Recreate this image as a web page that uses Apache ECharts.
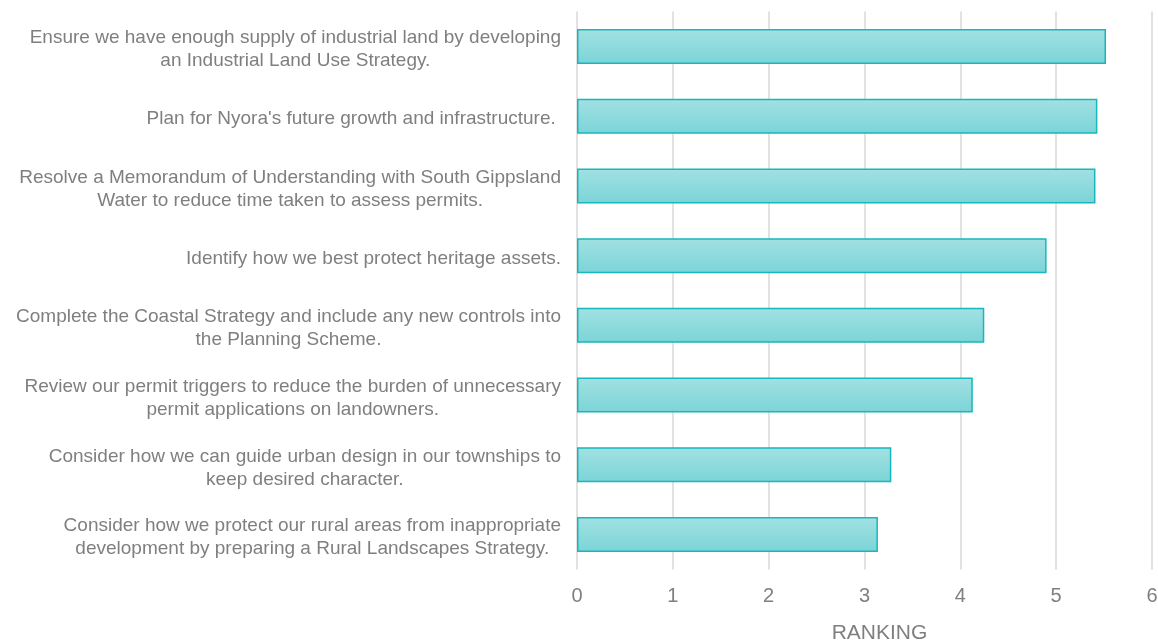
<!DOCTYPE html>
<html>
<head>
<meta charset="utf-8">
<script src="https://cdn.jsdelivr.net/npm/echarts@6/dist/echarts.min.js"></script>
<style>html,body{margin:0;padding:0;background:#fff;}#c{width:1158px;height:644px;}</style>
</head>
<body>
<div id="c"></div>
<script>
const categories = [
  "Ensure we have enough supply of industrial land by developing\nan Industrial Land Use Strategy.",
  "Plan for Nyora's future growth and infrastructure. ",
  "Resolve a Memorandum of Understanding with South Gippsland\nWater to reduce time taken to assess permits.",
  "Identify how we best protect heritage assets.",
  "Complete the Coastal Strategy and include any new controls into\nthe Planning Scheme.",
  "Review our permit triggers to reduce the burden of unnecessary\npermit applications on landowners.",
  "Consider how we can guide urban design in our townships to\nkeep desired character.",
  "Consider how we protect our rural areas from inappropriate\ndevelopment by preparing a Rural Landscapes Strategy."
];
const values = [5.52, 5.43, 5.41, 4.90, 4.25, 4.13, 3.28, 3.14];
const xTicks = [0, 1, 2, 3, 4, 5, 6];
const axisName = "RANKING";

const FONT = "'Liberation Sans', Arial, sans-serif";
const chart = echarts.init(document.getElementById('c'), null, {renderer: 'canvas'});
chart.setOption({
  animation: false,
  backgroundColor: '#ffffff',
  grid: {left: 577, right: 6, top: 11.6, bottom: 74.6, containLabel: false, outerBoundsMode: 'none'},
  xAxis: {
    type: 'value',
    min: xTicks[0], max: xTicks[xTicks.length - 1], interval: 1,
    name: axisName,
    nameLocation: 'middle',
    nameGap: 53,
    nameTextStyle: {color: '#7f7f7f', fontSize: 21, fontFamily: FONT, padding: [0, 0, 0, 30]},
    axisLine: {show: false},
    axisTick: {show: false},
    axisLabel: {color: '#7f7f7f', fontSize: 20, margin: 17, fontFamily: FONT},
    splitLine: {show: true, lineStyle: {color: '#d9d9d9', width: 1.5}}
  },
  yAxis: {
    type: 'category',
    inverse: true,
    data: categories,
    axisLine: {show: false},
    axisTick: {show: false},
    axisLabel: {
      margin: 16,
      color: '#7f7f7f',
      fontSize: 19,
      fontFamily: FONT,
      lineHeight: 23,
      padding: [6, 0, 0, 0],
      formatter: function (v) {
        return v.split('\n').map(function (s) { return '{c|' + s + '}'; }).join('\n');
      },
      rich: {c: {align: 'center', color: '#7f7f7f', fontSize: 19, lineHeight: 23, fontFamily: FONT}}
    }
  },
  series: [{
    type: 'bar',
    data: values,
    barWidth: 35,
    itemStyle: {
      color: new echarts.graphic.LinearGradient(0, 0, 0, 1, [
        {offset: 0, color: '#a2e1e3'},
        {offset: 1, color: '#7bd4d7'}
      ]),
      borderColor: '#17b7bb',
      borderWidth: 1.5
    }
  }]
});
</script>
</body>
</html>
